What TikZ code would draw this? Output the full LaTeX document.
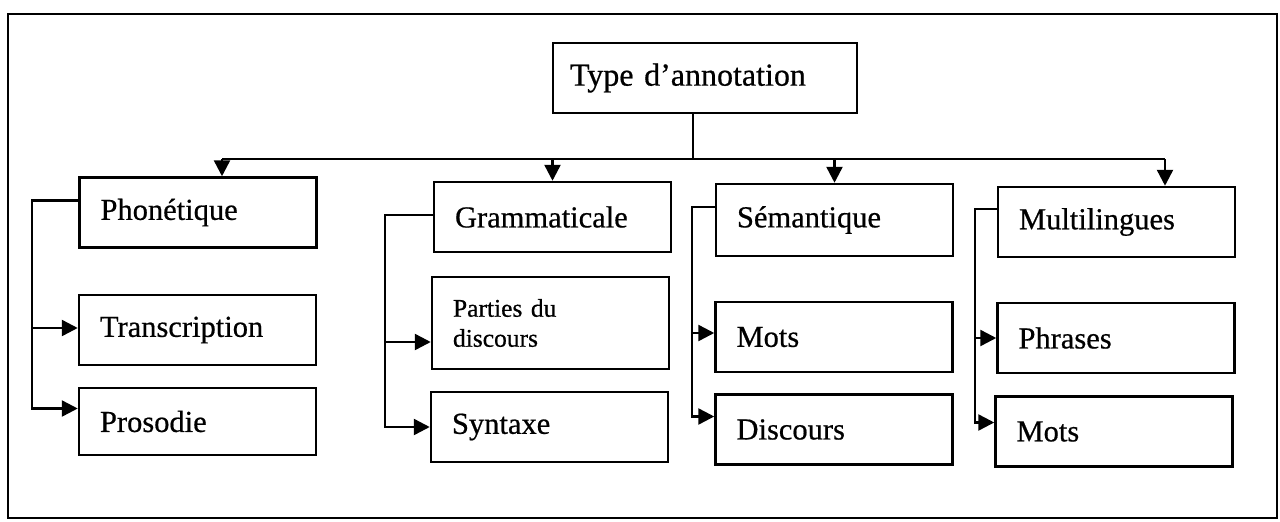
\documentclass[tikz,border=0pt]{standalone}
\usepackage{fontspec}
\setmainfont{Liberation Serif}[FakeBold=0.6]
\usetikzlibrary{arrows.meta,calc}
\begin{document}
\begin{tikzpicture}[x=1pt,y=-1pt,
  box/.style={draw,line width=2.5pt,minimum width=237pt,minimum height=70pt,
    text width=195pt,inner xsep=21pt,align=left,font=\fontsize{30.5}{34}\selectfont},
  ln/.style={line width=2.5pt},
  arr/.style={line width=2.5pt,-{Triangle[length=16pt,width=16pt]}}]
\useasboundingbox (0,0) rectangle (1280,522);
\draw[line width=2.2pt] (8,14) rectangle (1277,518);

\node[box,minimum width=304pt,text width=270pt,inner xsep=17pt,font=\fontsize{32}{36}\selectfont] (top) at (705,78) {Type d’annotation};

\node[box] (phon)  at (198,212.5) {Phonétique};
\node[box] (trans) at (197.5,330) {Transcription};
\node[box,minimum height=67pt] (pros) at (197.5,421.5) {Prosodie};

\node[box] (gram) at (552.5,217) {Grammaticale};
\node[box,minimum height=92pt,font=\fontsize{25.5}{30}\selectfont] (part) at (550.5,323) {Parties du\\discours};
\node[box] (syn) at (549.5,427) {Syntaxe};

\node[box,minimum height=72pt] (sem) at (834.5,220) {Sémantique};
\node[box] (mots1) at (834,337) {Mots};
\node[box] (disc) at (834,429.5) {Discours};

\node[box] (multi) at (1116.5,222) {Multilingues};
\node[box] (phr) at (1116,338) {Phrases};
\node[box] (mots2) at (1114,431.5) {Mots};

\coordinate (j) at (693,159);
\coordinate (a1) at (222,159);
\coordinate (a4) at (1165,159);
\coordinate (v1) at (32,0);
\coordinate (v2) at (385,0);
\coordinate (v3) at (692,0);
\coordinate (v4) at (975,0);

\draw[ln] (top.south -| j) -- (j);
\draw[ln] (a1) -- (a4);
\draw[arr] (a1) -- (a1 |- phon.north);
\draw[arr] (gram.north |- j) -- (gram.north);
\draw[arr] (sem.north |- j) -- (sem.north);
\draw[arr] (a4) -- (a4 |- multi.north);

\draw[arr] ([yshift=12pt]phon.west) -| ([yshift=13pt]pros.west -| v1) -- ([yshift=13pt]pros.west);
\draw[arr] ([yshift=2pt]trans.west -| v1) -- ([yshift=2pt]trans.west);

\draw[arr] ([yshift=2pt]gram.west) -| (syn.west -| v2) -- (syn.west);
\draw[arr] ([yshift=-19pt]part.west -| v2) -- ([yshift=-19pt]part.west);

\draw[arr] ([yshift=13pt]sem.west) -| ([yshift=13pt]disc.west -| v3) -- ([yshift=13pt]disc.west);
\draw[arr] ([yshift=4pt]mots1.west -| v3) -- ([yshift=4pt]mots1.west);

\draw[arr] ([yshift=13pt]multi.west) -| ([yshift=9pt]mots2.west -| v4) -- ([yshift=9pt]mots2.west);
\draw[arr] (phr.west -| v4) -- (phr.west);
\end{tikzpicture}
\end{document}
